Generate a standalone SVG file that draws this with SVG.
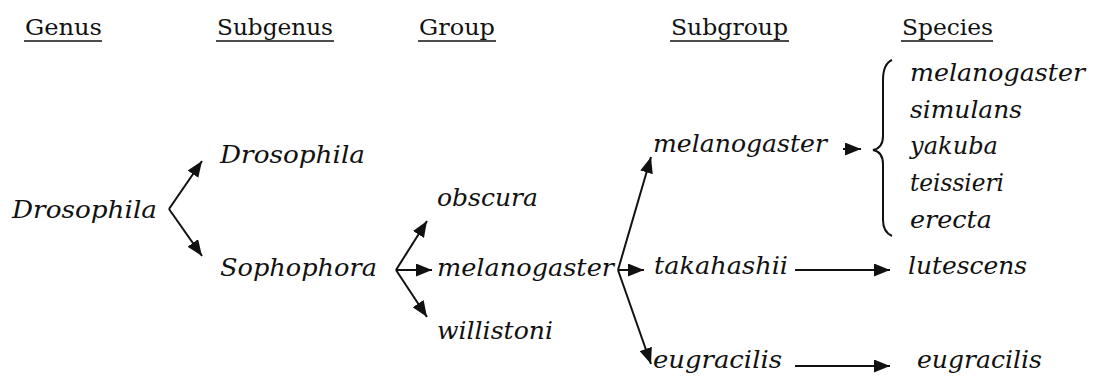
<svg xmlns="http://www.w3.org/2000/svg" width="1098" height="385" viewBox="0 0 1098 385">
<style>
.h{font-family:"DejaVu Serif","Liberation Serif",serif;font-size:22px;fill:#111}
.t{font-family:"DejaVu Serif","Liberation Serif",serif;font-style:italic;font-size:24px;fill:#111}
.u{stroke:#111;stroke-width:1.6}
.c{stroke:#111;stroke-width:2;fill:none}
</style>
<defs>
<marker id="b" viewBox="0 0 16 13" refX="16" refY="6.5" markerWidth="16" markerHeight="13" markerUnits="userSpaceOnUse" orient="auto">
<path d="M0,0 L16,6.5 L0,13 z" fill="#111"/>
</marker>
</defs>
<rect width="1098" height="385" fill="#fff"/>
<g id="headers">
<text class="h" x="25" y="35" textLength="77" lengthAdjust="spacingAndGlyphs">Genus</text>
<line class="u" x1="24" y1="41" x2="102" y2="41"/>
<text class="h" x="217" y="35" textLength="116" lengthAdjust="spacingAndGlyphs">Subgenus</text>
<line class="u" x1="216" y1="41" x2="334" y2="41"/>
<text class="h" x="419" y="35" textLength="76" lengthAdjust="spacingAndGlyphs">Group</text>
<line class="u" x1="418" y1="41" x2="496" y2="41"/>
<text class="h" x="671" y="35" textLength="117" lengthAdjust="spacingAndGlyphs">Subgroup</text>
<line class="u" x1="670" y1="41" x2="789" y2="41"/>
<text class="h" x="902" y="35" textLength="91" lengthAdjust="spacingAndGlyphs">Species</text>
<line class="u" x1="901" y1="41" x2="993" y2="41"/>
</g>
<g id="genus-drosophila"><text class="t" x="12" y="218" textLength="145" lengthAdjust="spacingAndGlyphs">Drosophila</text></g>
<g id="subgenus-drosophila"><text class="t" x="220" y="163" textLength="145" lengthAdjust="spacingAndGlyphs">Drosophila</text></g>
<g id="subgenus-sophophora"><text class="t" x="220" y="276" textLength="157" lengthAdjust="spacingAndGlyphs">Sophophora</text></g>
<g id="group-obscura"><text class="t" x="437" y="206" textLength="101" lengthAdjust="spacingAndGlyphs">obscura</text></g>
<g id="group-melanogaster"><text class="t" x="437" y="276" textLength="177" lengthAdjust="spacingAndGlyphs">melanogaster</text></g>
<g id="group-willistoni"><text class="t" x="437" y="339" textLength="116" lengthAdjust="spacingAndGlyphs">willistoni</text></g>
<g id="subgroup-melanogaster"><text class="t" x="653" y="152" textLength="174" lengthAdjust="spacingAndGlyphs">melanogaster</text></g>
<g id="subgroup-takahashii"><text class="t" x="654" y="274" textLength="134" lengthAdjust="spacingAndGlyphs">takahashii</text></g>
<g id="subgroup-eugracilis"><text class="t" x="653" y="368" textLength="129" lengthAdjust="spacingAndGlyphs">eugracilis</text></g>
<g id="species-melanogaster-group">
<text class="t" x="910" y="81" textLength="175" lengthAdjust="spacingAndGlyphs">melanogaster</text>
<text class="t" x="910" y="118" textLength="112" lengthAdjust="spacingAndGlyphs">simulans</text>
<text class="t" x="910" y="154" textLength="88" lengthAdjust="spacingAndGlyphs">yakuba</text>
<text class="t" x="910" y="191" textLength="94" lengthAdjust="spacingAndGlyphs">teissieri</text>
<text class="t" x="910" y="228" textLength="82" lengthAdjust="spacingAndGlyphs">erecta</text>
</g>
<g id="species-lutescens"><text class="t" x="908" y="274" textLength="119" lengthAdjust="spacingAndGlyphs">lutescens</text></g>
<g id="species-eugracilis"><text class="t" x="917" y="368" textLength="125" lengthAdjust="spacingAndGlyphs">eugracilis</text></g>
<g id="connectors">
<path class="c" d="M169,209 L202,161" marker-end="url(#b)"/>
<path class="c" d="M169,209 L202,256" marker-end="url(#b)"/>
<path class="c" d="M396,270 L427,221" marker-end="url(#b)"/>
<path class="c" d="M396,270 L432,270" marker-end="url(#b)"/>
<path class="c" d="M396,270 L427,317" marker-end="url(#b)"/>
<path class="c" d="M618,270 L651,157" marker-end="url(#b)"/>
<path class="c" d="M618,270 L644,270" marker-end="url(#b)"/>
<path class="c" d="M618,270 L651,364" marker-end="url(#b)"/>
<path class="c" d="M843,149 L861,149" marker-end="url(#b)"/>
<path class="c" d="M795,270 L890,270" marker-end="url(#b)"/>
<path class="c" d="M795,366 L890,366" marker-end="url(#b)"/>
<path class="c" stroke-width="1.6" d="M892,60 Q883,64 883,80 L883,136 Q883,148 873,150 Q883,152 883,164 L883,220 Q883,232 892,236"/>
</g>
</svg>
